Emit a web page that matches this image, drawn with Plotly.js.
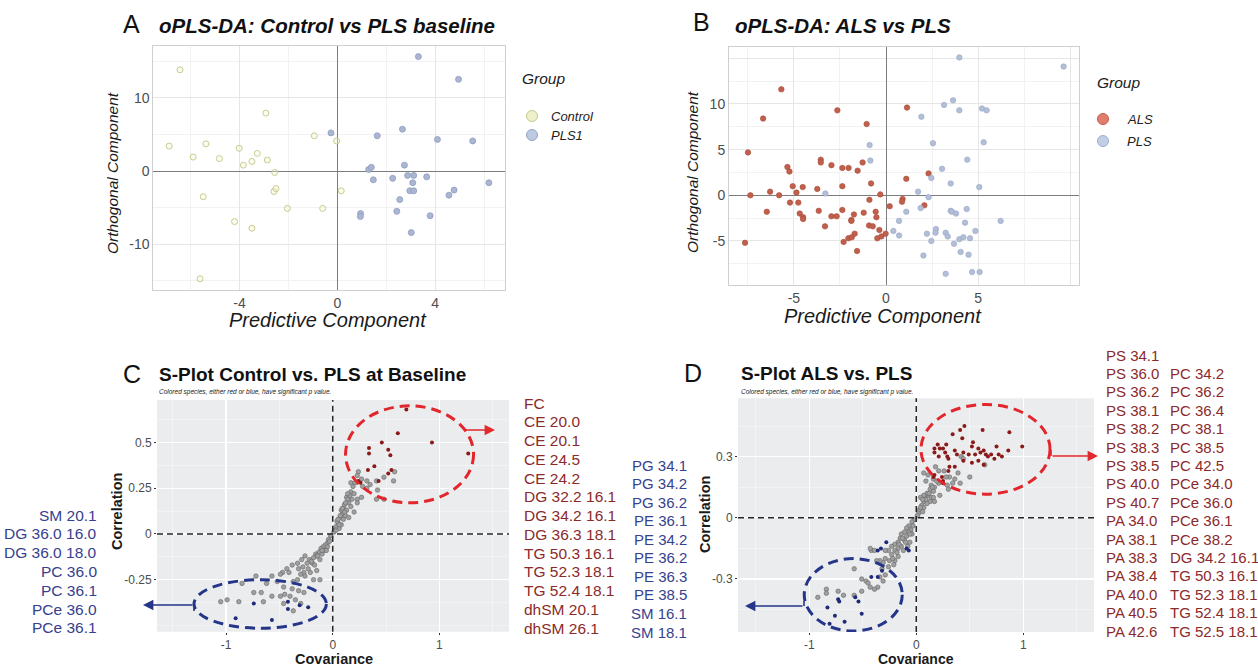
<!DOCTYPE html>
<html>
<head>
<meta charset="utf-8">
<script src="https://cdn.plot.ly/plotly-3.0.1.min.js"></script>
<style>html,body{margin:0;padding:0;background:#fff;}#chart{width:1258px;height:667px;}</style>
</head>
<body>
<div id="chart"></div>
<script>
// ---------- Panel A: oPLS-DA Control vs PLS baseline ----------
const aControlX = [-6.43,-6.87,-5.89,-5.37,-5.48,-4.82,-4.01,-3.84,-4.20,-3.49,-3.49,-3.27,-2.92,-2.86,-2.56,-2.59,-2.51,-2.04,-5.61,-0.94,-0.60,-0.03,0.16];
const aControlY = [13.8,3.4,1.9,3.7,-3.5,1.7,3.1,0.8,-6.9,1.3,-7.8,2.4,7.9,1.5,-0.2,-2.8,-2.4,-5.1,-14.7,4.8,-5.1,4.1,-2.7];
const aPlsX = [3.31,4.95,-0.26,1.63,2.66,4.09,5.53,1.28,1.39,1.47,2.26,2.74,2.87,3.12,3.08,3.65,2.96,3.12,2.55,2.43,0.95,0.94,3.79,3.02,4.56,4.77,6.19];
const aPlsY = [15.6,12.5,5.2,4.8,5.7,4.3,4.1,0.2,0.5,-1.2,-1.0,0.8,-0.6,-0.6,-1.6,-0.8,-2.7,-2.7,-3.9,-5.5,-5.8,-6.2,-6.1,-8.4,-3.3,-2.6,-1.6];

// ---------- Panel B: oPLS-DA ALS vs PLS ----------
const bAlsX = [-5.68,-2.64,-6.67,-1.05,1.14,-7.49,-5.35,-5.24,-3.54,-3.54,-2.96,-2.37,-2.03,-1.54,-1.27,1.10,2.31,-0.81,-5.06,-4.52,-3.73,-2.37,-6.29,-7.36,-5.80,-4.86,-5.21,-4.76,-0.31,-0.90,-6.47,-4.68,-4.50,-4.50,-3.65,-3.31,-2.96,-2.68,-2.37,-1.88,-1.88,-1.74,-1.21,-0.56,-0.52,-0.92,-0.72,-0.36,0.20,0.90,0.87,2.08,-0.47,-0.25,-0.02,-2.30,-2.04,-1.86,-1.70,-1.57,-7.65];
const bAlsY = [11.6,9.3,8.4,7.8,9.6,4.7,3.1,2.6,3.9,3.6,3.3,3.0,3.0,2.7,3.6,1.8,2.4,1.3,1.0,0.9,0.7,1.0,0.4,0.0,0.0,0.3,-0.8,-0.8,0.1,-0.5,-1.8,-2.0,-2.4,-2.6,-1.7,-3.4,-2.3,-2.3,-1.6,-2.7,-2.8,-2.1,-1.9,-1.8,-2.4,-3.3,-3.4,-3.8,-1.2,-0.4,-0.7,-1.1,-4.7,-4.5,-4.2,-5.1,-4.7,-4.6,-4.2,-6.1,-5.2];
const bPlsX = [3.98,9.64,3.15,3.64,3.98,5.21,5.46,1.92,-0.89,2.55,5.30,-0.85,4.41,3.04,2.46,3.51,5.06,-3.29,1.74,2.31,1.88,1.10,3.51,3.58,3.80,4.38,0.71,0.40,0.71,2.22,2.71,2.69,3.24,3.35,2.46,3.69,3.98,4.20,4.56,4.29,4.85,6.22,2.03,4.05,4.48,3.24,4.67,5.08];
const bPlsY = [15.1,14.1,9.9,10.4,9.3,9.5,9.3,8.6,5.5,5.7,5.8,3.8,3.9,2.9,1.9,1.3,0.9,0.2,0.4,-0.2,-1.4,-1.8,-1.7,-1.8,-2.0,-1.5,-2.8,-3.9,-4.4,-4.2,-3.7,-4.1,-4.1,-4.5,-5.0,-5.3,-4.8,-4.6,-4.7,-3.0,-3.9,-2.8,-6.6,-6.2,-6.5,-8.6,-8.4,-8.4];

// ---------- Panel C: S-plot Control vs PLS ----------
const cGreyX = [0.24,0.23,0.27,0.32,0.41,0.48,0.58,0.57,0.42,0.41,0.48,0.32,0.19,0.17,0.20,0.13,0.18,0.23,0.15,0.10,0.13,0.17,0.20,0.09,0.12,0.07,0.10,0.15,0.05,0.08,0.03,0.06,0.02,0.01,0.04,0.07,0.11,0.14,0.08,0.23,0.27,0.28,0.35,0.17,0.21,0.05,0.09,0.12,0.16,0.14,0.03,0.06,0.11,
  -0.02,-0.04,-0.05,-0.07,-0.09,-0.05,-0.11,-0.08,-0.13,-0.10,-0.16,-0.15,-0.18,-0.12,-0.22,-0.26,-0.29,-0.24,-0.19,-0.33,-0.38,-0.32,-0.43,-0.47,-0.41,-0.27,-0.21,-0.15,-0.30,-0.26,-0.18,-0.12,-0.33,-0.37,-0.49,-0.57,-0.72,-0.85,-0.62,-0.52,-0.46,-0.38,-0.32,-0.27,-0.74,-0.67,-0.57,-0.49,-0.45,-0.40,-0.35,-0.30,-0.65,-0.99,-1.05,-0.88,-0.37,-0.46,-0.03,-0.06,-0.10,-0.14,-0.20,-0.17,-0.28,-0.23];
const cGreyY = [0.34,0.32,0.30,0.29,0.29,0.31,0.34,0.29,0.24,0.19,0.19,0.25,0.26,0.23,0.22,0.20,0.19,0.19,0.17,0.14,0.13,0.15,0.12,0.11,0.10,0.09,0.08,0.09,0.06,0.05,0.04,0.03,0.02,0.01,0.07,0.10,0.16,0.19,0.13,0.17,0.20,0.26,0.27,0.28,0.28,0.08,0.14,0.17,0.21,0.22,0.02,0.05,0.12,
  -0.01,-0.03,-0.05,-0.06,-0.07,-0.07,-0.08,-0.09,-0.10,-0.11,-0.11,-0.12,-0.13,-0.14,-0.14,-0.12,-0.14,-0.16,-0.16,-0.16,-0.17,-0.19,-0.19,-0.21,-0.21,-0.21,-0.21,-0.20,-0.22,-0.23,-0.25,-0.25,-0.25,-0.26,-0.22,-0.23,-0.23,-0.27,-0.27,-0.26,-0.29,-0.30,-0.31,-0.32,-0.32,-0.32,-0.34,-0.34,-0.33,-0.34,-0.36,-0.38,-0.37,-0.36,-0.37,-0.37,-0.42,-0.38,-0.04,-0.09,-0.09,-0.12,-0.15,-0.17,-0.18,-0.19];
const cRedX = [0.69,0.61,0.93,0.46,0.34,0.34,0.52,0.54,0.39,0.33,0.52,0.55,0.43,0.24,0.26,1.27];
const cRedY = [0.68,0.55,0.50,0.50,0.47,0.44,0.46,0.43,0.37,0.35,0.33,0.35,0.29,0.29,0.28,0.44];
const cBlueX = [-0.74,-0.42,-0.42,-0.31,-0.23,-0.91,-0.57];
const cBlueY = [-0.38,-0.37,-0.41,-0.39,-0.40,-0.46,-0.47];
const cRedLabels = ['FC','CE 20.0','CE 20.1','CE 24.5','CE 24.2','DG 32.2 16.1','DG 34.2 16.1','DG 36.3 18.1','TG 50.3 16.1','TG 52.3 18.1','TG 52.4 18.1','dhSM 20.1','dhSM 26.1'];
const cBlueLabels = ['SM 20.1','DG 36.0 16.0','DG 36.0 18.0','PC 36.0','PC 36.1','PCe 36.0','PCe 36.1'];

// ---------- Panel D: S-plot ALS vs PLS ----------
const dGreyX = [0.42,0.44,0.64,0.50,0.39,0.41,0.36,0.31,0.34,0.29,0.28,0.26,0.21,0.18,0.21,0.17,0.14,0.13,0.16,0.11,0.14,0.10,0.08,0.13,0.07,0.10,0.05,0.07,0.03,0.06,0.02,0.01,0.11,0.07,0.09,0.16,0.30,0.22,0.17,0.16,0.07,0.04,0.04,0.09,0.12,0.15,0.19,0.06,
  -0.02,-0.04,-0.03,-0.07,-0.09,-0.05,-0.11,-0.07,-0.14,-0.09,-0.04,-0.15,-0.11,-0.06,-0.17,-0.20,-0.14,-0.08,-0.23,-0.17,-0.26,-0.20,-0.12,-0.29,-0.23,-0.17,-0.29,-0.25,-0.20,-0.31,-0.26,-0.21,-0.34,-0.37,-0.42,-0.32,-0.29,-0.34,-0.31,-0.36,-0.39,-0.58,-0.51,-0.47,-0.45,-0.43,-0.51,-0.58,-0.68,-0.73,-0.84,-0.84,-0.92,-0.43,-0.39,-0.06,-0.10,-0.13,-0.18,-0.22,-0.16];
const dGreyY = [0.30,0.29,0.26,0.20,0.22,0.17,0.19,0.20,0.17,0.16,0.20,0.23,0.23,0.25,0.17,0.15,0.16,0.14,0.13,0.11,0.10,0.12,0.10,0.08,0.08,0.07,0.06,0.05,0.04,0.03,0.02,0.01,0.21,0.22,0.18,0.19,0.14,0.11,0.08,0.10,0.11,0.10,0.05,0.09,0.12,0.15,0.18,0.09,
  -0.01,-0.02,-0.04,-0.04,-0.05,-0.06,-0.07,-0.07,-0.08,-0.09,-0.08,-0.10,-0.11,-0.12,-0.12,-0.13,-0.14,-0.14,-0.14,-0.15,-0.16,-0.16,-0.16,-0.16,-0.18,-0.19,-0.20,-0.21,-0.21,-0.22,-0.24,-0.23,-0.21,-0.21,-0.16,-0.25,-0.28,-0.29,-0.31,-0.34,-0.35,-0.25,-0.30,-0.31,-0.32,-0.34,-0.36,-0.38,-0.38,-0.36,-0.35,-0.37,-0.39,-0.15,-0.16,-0.08,-0.12,-0.10,-0.17,-0.20,-0.13];
const dRedX = [0.62,0.45,0.41,0.34,0.43,0.28,0.20,0.17,0.22,0.25,0.27,0.17,0.21,0.29,0.36,0.44,0.53,0.52,0.58,0.63,0.49,0.55,0.60,0.65,0.67,0.70,0.73,0.75,0.77,0.80,0.87,0.86,0.58,0.63,0.52,0.44,0.36,0.31,0.30,0.24,0.17,0.16,0.25,0.25,0.30,0.38,0.99];
const dRedY = [0.43,0.45,0.43,0.41,0.39,0.36,0.36,0.34,0.34,0.34,0.32,0.32,0.30,0.30,0.33,0.32,0.37,0.35,0.34,0.33,0.31,0.31,0.32,0.31,0.30,0.31,0.29,0.35,0.31,0.30,0.42,0.33,0.28,0.26,0.27,0.28,0.25,0.25,0.23,0.20,0.21,0.20,0.17,0.18,0.29,0.31,0.35];
const dBlueX = [-0.28,-0.33,-0.36,-0.09,-0.07,-0.32,-0.36,-0.73,-0.72,-0.57,-0.54,-0.83,-0.51,-0.76,-0.67,-0.81,-0.42];
const dBlueY = [-0.12,-0.15,-0.16,-0.15,-0.16,-0.26,-0.29,-0.40,-0.41,-0.39,-0.41,-0.44,-0.47,-0.48,-0.51,-0.52,-0.29];
const dBlueLabels = ['PG 34.1','PG 34.2','PG 36.2','PE 36.1','PE 34.2','PE 36.2','PE 36.3','PE 38.5','SM 16.1','SM 18.1'];
const dRedLabels1 = ['PS 34.1','PS 36.0','PS 36.2','PS 38.1','PS 38.2','PS 38.3','PS 38.5','PS 40.0','PS 40.7','PA 34.0','PA 38.1','PA 38.3','PA 38.4','PA 40.0','PA 40.5','PA 42.6'];
const dRedLabels2 = ['PC 34.2','PC 36.2','PC 36.4','PC 38.1','PC 38.5','PC 42.5','PCe 34.0','PCe 36.0','PCe 36.1','PCe 38.2','DG 34.2 16.1','TG 50.3 16.1','TG 52.3 18.1','TG 52.4 18.1','TG 52.5 18.1'];

// axis titles
const oplsXTitle = 'Predictive Component';
const oplsYTitle = 'Orthogonal Component';
const sXTitle = 'Covariance';
const sYTitle = 'Correlation';

// ---------- helpers ----------
const W = 1258, H = 667;
const px = x => x / W;
const py = y => 1 - y / H;
const FONT = 'Liberation Sans, Arial, Helvetica, sans-serif';
const RED_TXT = '#8b2a2a', BLUE_TXT = '#36418f';

const colControl = {fill:'rgba(244,245,215,0.35)', line:'#c9cc8d'};
const colPls1 = {fill:'#aab6d2', line:'#8e9cc0'};
const colAls = {fill:'#c0604c', line:'#a94d3b'};
const colPls = {fill:'#b3bfd8', line:'#97a6c6'};

const traces = [
  {type:'scatter', mode:'markers', name:'Control', x:aControlX, y:aControlY, xaxis:'x', yaxis:'y',
   marker:{size:6, color:colControl.fill, line:{color:colControl.line, width:1}}},
  {type:'scatter', mode:'markers', name:'PLS1', x:aPlsX, y:aPlsY, xaxis:'x', yaxis:'y',
   marker:{size:6, color:colPls1.fill, line:{color:colPls1.line, width:0.8}}},
  {type:'scatter', mode:'markers', name:'ALS', x:bAlsX, y:bAlsY, xaxis:'x2', yaxis:'y2',
   marker:{size:5.5, color:colAls.fill, line:{color:colAls.line, width:0.6}}},
  {type:'scatter', mode:'markers', name:'PLS', x:bPlsX, y:bPlsY, xaxis:'x2', yaxis:'y2',
   marker:{size:5.5, color:colPls.fill, line:{color:colPls.line, width:0.6}}},
  {type:'scatter', mode:'markers', name:'ns', x:cGreyX, y:cGreyY, xaxis:'x3', yaxis:'y3',
   marker:{size:4.5, color:'#a0a0a0', line:{color:'#666666', width:0.6}}},
  {type:'scatter', mode:'markers', name:'up', x:cRedX, y:cRedY, xaxis:'x3', yaxis:'y3',
   marker:{size:4, color:'#8b1a1a'}},
  {type:'scatter', mode:'markers', name:'down', x:cBlueX, y:cBlueY, xaxis:'x3', yaxis:'y3',
   marker:{size:4, color:'#1f2a78'}},
  {type:'scatter', mode:'markers', name:'ns', x:dGreyX, y:dGreyY, xaxis:'x4', yaxis:'y4',
   marker:{size:4.5, color:'#a0a0a0', line:{color:'#666666', width:0.6}}},
  {type:'scatter', mode:'markers', name:'up', x:dRedX, y:dRedY, xaxis:'x4', yaxis:'y4',
   marker:{size:4, color:'#8b1a1a'}},
  {type:'scatter', mode:'markers', name:'down', x:dBlueX, y:dBlueY, xaxis:'x4', yaxis:'y4',
   marker:{size:4, color:'#1f2a78'}}
];

// axis styles (titles are placed as annotations below for exact positioning with zero margins)
function oplsAxis(domain, range, tickvals, ticktext, minorDtick, anchor){
  return {domain, range, anchor, tickvals, ticktext, ticks:'', automargin:false,
    showgrid:true, gridcolor:'#e6e6e6', gridwidth:1,
    minor:{dtick:minorDtick, tick0:0, showgrid:true, gridcolor:'#f2f2f2', gridwidth:1, ticks:''},
    zeroline:true, zerolinecolor:'#7d7d7d', zerolinewidth:1,
    showline:true, mirror:true, linecolor:'#cfcfcf', linewidth:1,
    tickfont:{size:14, color:'#4d4d4d', family:FONT}};
}
function sAxis(domain, range, anchor, tickvals, ticktext, minorDtick){
  return {domain, range, anchor, tickvals, ticktext, automargin:false,
    ticks:'outside', ticklen:2, tickcolor:'#333', tickwidth:1,
    showgrid:true, gridcolor:'#ffffff', gridwidth:1.2,
    minor:{dtick:minorDtick, tick0:0, showgrid:true, gridcolor:'#f7f8f9', gridwidth:0.6, ticks:''},
    zeroline:false, showline:false,
    tickfont:{size:12, color:'#4d4d4d', family:FONT}};
}

const annotations = [];
function txt(x, y, text, opts){
  annotations.push(Object.assign({xref:'paper', yref:'paper', x:px(x), y:py(y), text,
    showarrow:false, xanchor:'left', yanchor:'middle', font:{family:FONT, size:15, color:'#000'}}, opts||{}));
}
function arrow(x0, y0, x1, y1, color){
  annotations.push({xref:'paper', yref:'paper', x:px(x1), y:py(y1), ax:x0 - x1, ay:y0 - y1,
    axref:'pixel', ayref:'pixel', text:'', showarrow:true, arrowhead:2, arrowsize:1.3,
    arrowwidth:1.6, arrowcolor:color, standoff:0, startstandoff:0});
}

// panel letters and titles
txt(121, 24, 'A', {font:{family:FONT, size:25, color:'#111'}});
txt(157, 25, 'oPLS-DA: Control vs PLS baseline', {font:{family:FONT, size:20.5, weight:'bold', style:'italic', color:'#111'}});
txt(691, 22, 'B', {font:{family:FONT, size:25, color:'#111'}});
txt(733, 25, 'oPLS-DA: ALS vs PLS', {font:{family:FONT, size:20.5, weight:'bold', style:'italic', color:'#111'}});
txt(121, 374, 'C', {font:{family:FONT, size:25, color:'#111'}});
txt(157, 374, 'S-Plot Control vs. PLS at Baseline', {font:{family:FONT, size:19, weight:'bold', color:'#111'}});
txt(157, 392, 'Colored species, either red or blue, have significant p value.', {font:{family:FONT, size:6.5, style:'italic', color:'#222'}});
txt(682, 373, 'D', {font:{family:FONT, size:25, color:'#111'}});
txt(739, 373, 'S-Plot ALS vs. PLS', {font:{family:FONT, size:19, weight:'bold', color:'#111'}});
txt(739, 392, 'Colored species, either red or blue, have significant p value.', {font:{family:FONT, size:6.5, style:'italic', color:'#222'}});

// axis titles
const xTitleFontA = {family:FONT, size:20, style:'italic', color:'#1a1a1a'};
const yTitleFontA = {family:FONT, size:15.5, style:'italic', color:'#1a1a1a'};
const sTitleFont = {family:FONT, size:14.5, weight:'bold', color:'#1a1a1a'};
txt(328, 319.5, oplsXTitle, {xanchor:'center', font:xTitleFontA});
txt(883, 316, oplsXTitle, {xanchor:'center', font:xTitleFontA});
txt(112, 173, oplsYTitle, {xanchor:'center', textangle:-90, font:yTitleFontA});
txt(692, 172, oplsYTitle, {xanchor:'center', textangle:-90, font:yTitleFontA});
txt(334, 658.5, sXTitle, {xanchor:'center', font:sTitleFont});
txt(916, 658.5, sXTitle, {xanchor:'center', font:{family:FONT, size:14, weight:'bold', color:'#1a1a1a'}});
txt(117, 512, sYTitle, {xanchor:'center', textangle:-90, font:sTitleFont});
txt(705, 515, sYTitle, {xanchor:'center', textangle:-90, font:sTitleFont});

// legends A and B (drawn manually)
txt(520, 78, 'Group', {font:{family:FONT, size:15.5, style:'italic', color:'#222'}});
txt(549, 116, 'Control', {font:{family:FONT, size:13, style:'italic', color:'#222'}});
txt(549, 135, 'PLS1', {font:{family:FONT, size:13, style:'italic', color:'#222'}});
txt(1095, 83, 'Group', {font:{family:FONT, size:15.5, style:'italic', color:'#222'}});
txt(1125, 119, 'ALS', {font:{family:FONT, size:13, style:'italic', color:'#222'}});
txt(1125, 141, 'PLS', {font:{family:FONT, size:13, style:'italic', color:'#222'}});

// label lists
cRedLabels.forEach((t,i) => txt(522, 403 + i*18.75, t, {font:{family:FONT, size:15.5, color:RED_TXT}}));
cBlueLabels.forEach((t,i) => txt(99, 515 + i*18.8, t, {xanchor:'right', font:{family:FONT, size:15.5, color:BLUE_TXT}}));
dBlueLabels.forEach((t,i) => txt(689, 465 + i*18.56, t, {xanchor:'right', font:{family:FONT, size:15, color:BLUE_TXT}}));
dRedLabels1.forEach((t,i) => txt(1104, 355 + i*18.4, t, {font:{family:FONT, size:15, color:RED_TXT}}));
dRedLabels2.forEach((t,i) => txt(1168, 355 + (i+1)*18.4, t, {font:{family:FONT, size:15, color:RED_TXT}}));

// arrows
arrow(463, 430, 495, 430, '#e0282d');
arrow(194, 605, 143, 605, '#25358a');
arrow(1051, 456, 1098, 456, '#e0282d');
arrow(804, 606, 745, 606, '#25358a');

const shapes = [];
// grey panel backgrounds for S-plots
['3','4'].forEach(k => shapes.push({type:'rect', xref:'x'+k+' domain', yref:'y'+k+' domain', x0:0, x1:1, y0:0, y1:1,
  fillcolor:'#ebecee', line:{width:0}, layer:'below'}));
// dashed zero lines
['3','4'].forEach(k => {
  shapes.push({type:'line', xref:'x'+k, yref:'y'+k+' domain', x0:0, x1:0, y0:0, y1:1, line:{color:'#262626', width:1.5, dash:'6px,4px'}});
  shapes.push({type:'line', xref:'x'+k+' domain', yref:'y'+k, x0:0, x1:1, y0:0, y1:0, line:{color:'#262626', width:1.5, dash:'6px,4px'}});
});
// ellipses
shapes.push({type:'circle', xref:'x3', yref:'y3', x0:0.12, x1:1.32, y0:0.17, y1:0.70, line:{color:'#e2262b', width:3, dash:'10px,6px'}});
shapes.push({type:'circle', xref:'x3', yref:'y3', x0:-1.30, x1:-0.06, y0:-0.515, y1:-0.25, line:{color:'#25358a', width:3, dash:'10px,6px'}});
shapes.push({type:'circle', xref:'x4', yref:'y4', x0:0.044, x1:1.25, y0:0.116, y1:0.556, line:{color:'#e2262b', width:3, dash:'10px,6px'}});
shapes.push({type:'circle', xref:'x4', yref:'y4', x0:-1.047, x1:-0.131, y0:-0.555, y1:-0.20, line:{color:'#25358a', width:3, dash:'10px,6px'}});
// little elbows at arrow starts
function seg(x0,y0,x1,y1,color){ shapes.push({type:'line', xref:'paper', yref:'paper', x0:px(x0), y0:py(y0), x1:px(x1), y1:py(y1), line:{color, width:1.6}}); }
seg(194, 605, 194, 611, '#25358a');
seg(1051, 450, 1051, 456, '#e0282d');
seg(804, 601, 804, 606, '#25358a');
// legend keys
function key(cx, cy, fill, line){
  shapes.push({type:'circle', xref:'paper', yref:'paper', xsizemode:'pixel', ysizemode:'pixel',
    xanchor:px(cx), yanchor:py(cy), x0:-5.5, x1:5.5, y0:-5.5, y1:5.5, fillcolor:fill, line:{color:line, width:1}});
}
key(532, 116, '#eef0cc', '#c4c78a');
key(532, 135, '#bccae2', '#93a3c6');
key(1103, 119, '#e07d6c', '#c45a48');
key(1103, 141, '#c3cee4', '#9cadcf');

const layout = {
  width:W, height:H, margin:{l:0, r:0, t:0, b:0},
  paper_bgcolor:'#ffffff', plot_bgcolor:'rgba(0,0,0,0)',
  showlegend:false, font:{family:FONT},
  xaxis: oplsAxis([px(153.3), px(505)], [-7.52, 6.85], [-4,0,4], ['-4','0','4'], 2, 'y'),
  yaxis: oplsAxis([py(290), py(45.7)], [-16.23, 17.09], [-10,0,10], ['-10','0','10'], 5, 'x'),
  xaxis2: oplsAxis([px(729), px(1079.3)], [-8.52, 10.49], [-5,0,5,10], ['-5','0','5',''], 2.5, 'y2'),
  yaxis2: oplsAxis([py(285), py(46.7)], [-9.82, 16.27], [-5,0,5,10,15], ['-5','0','5','10',''], 2.5, 'x2'),
  xaxis3: sAxis([px(157), px(509)], [-1.647, 1.652], 'y3', [-1,0,1], ['-1','0','1'], 0.5),
  yaxis3: sAxis([py(631.7), py(400)], [-0.534, 0.732], 'x3', [-0.25,0,0.25,0.5], ['-0.25','0','0.25','0.5'], 0.125),
  xaxis4: sAxis([px(738), px(1094)], [-1.666, 1.661], 'y4', [-1,0,1], ['-1','0','1'], 0.5),
  yaxis4: sAxis([py(632), py(398.3)], [-0.56, 0.586], 'x4', [-0.3,0,0.3], ['-0.3','0','0.3'], 0.15),
  annotations, shapes
};

Plotly.newPlot('chart', traces, layout, {displayModeBar:false, staticPlot:true});
</script>
</body>
</html>
